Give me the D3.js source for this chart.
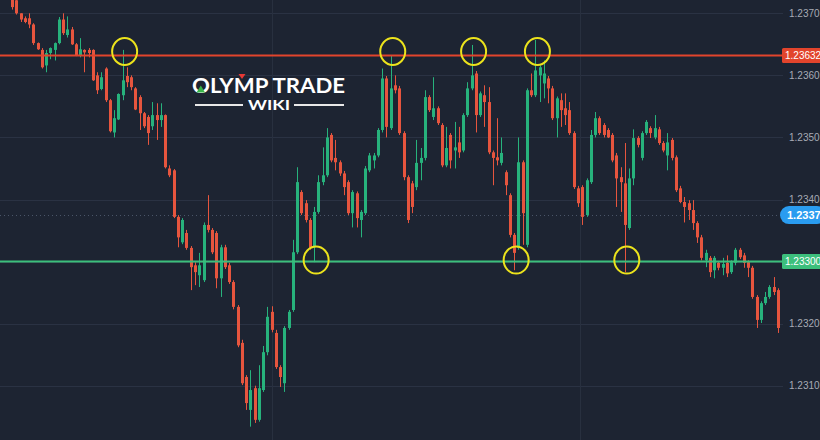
<!DOCTYPE html>
<html><head><meta charset="utf-8">
<script src="https://cdn.jsdelivr.net/npm/d3@7"></script>
<style>html,body{margin:0;padding:0;background:#1d2432;} svg{display:block;}</style>
</head><body><svg id="c" width="820" height="440"></svg>
<script>
const openP = [
1.23724,1.23721,1.23700,1.23692,1.23692,1.23682,1.23652,1.23641,1.23616,1.23636,
1.23641,1.23652,1.23690,1.23665,1.23674,1.23650,1.23632,1.23641,1.23641,1.23641,
1.23600,1.23578,1.23611,1.23560,1.23508,1.23529,1.23568,1.23599,1.23597,1.23579,
1.23565,1.23539,1.23533,1.23518,1.23536,1.23528,1.23536,1.23450,1.23447,1.23372,
1.23331,1.23346,1.23322,1.23294,1.23278,1.23270,1.23359,1.23351,1.23346,1.23273,
1.23323,1.23294,1.23267,1.23227,1.23169,1.23114,1.23061,1.23096,1.23045,1.23093,
1.23154,1.23219,1.23185,1.23130,1.23104,1.23193,1.23222,1.23315,1.23412,1.23394,
1.23367,1.23323,1.23380,1.23428,1.23439,1.23504,1.23467,1.23460,1.23442,1.23428,
1.23378,1.23410,1.23367,1.23378,1.23447,1.23463,1.23471,1.23512,1.23595,1.23515,
1.23584,1.23579,1.23507,1.23436,1.23426,1.23420,1.23459,1.23467,1.23565,1.23533,
1.23547,1.23520,1.23455,1.23504,1.23479,1.23492,1.23479,1.23536,1.23579,1.23603,
1.23536,1.23568,1.23557,1.23476,1.23468,1.23459,1.23444,1.23407,1.23343,1.23322,
1.23460,1.23327,1.23576,1.23568,1.23600,1.23587,1.23595,1.23579,1.23531,1.23560,
1.23547,1.23544,1.23507,1.23418,1.23420,1.23375,1.23428,1.23504,1.23531,1.23520,
1.23512,1.23504,1.23471,1.23436,1.23426,1.23354,1.23434,1.23499,1.23467,1.23507,
1.23515,1.23500,1.23513,1.23491,1.23471,1.23496,1.23468,1.23418,1.23396,1.23394,
1.23383,1.23362,1.23339,1.23302,1.23306,1.23286,1.23298,1.23290,1.23298,1.23283,
1.23298,1.23319,1.23310,1.23299,1.23290,1.23243,1.23206,1.23233,1.23243,1.23259,
1.23254];
const closeP = [
1.23710,1.23700,1.23690,1.23686,1.23682,1.23652,1.23642,1.23613,1.23636,1.23644,
1.23652,1.23690,1.23668,1.23674,1.23650,1.23632,1.23642,1.23637,1.23636,1.23592,
1.23576,1.23597,1.23560,1.23510,1.23531,1.23570,1.23592,1.23589,1.23581,1.23545,
1.23539,1.23518,1.23507,1.23536,1.23528,1.23536,1.23452,1.23439,1.23372,1.23339,
1.23367,1.23322,1.23291,1.23283,1.23294,1.23359,1.23351,1.23315,1.23273,1.23323,
1.23291,1.23267,1.23227,1.23165,1.23104,1.23072,1.23093,1.23045,1.23096,1.23154,
1.23211,1.23190,1.23130,1.23114,1.23193,1.23219,1.23315,1.23428,1.23378,1.23367,
1.23322,1.23380,1.23428,1.23439,1.23500,1.23463,1.23460,1.23442,1.23420,1.23378,
1.23412,1.23370,1.23380,1.23450,1.23471,1.23471,1.23512,1.23595,1.23517,1.23579,
1.23576,1.23507,1.23436,1.23367,1.23388,1.23459,1.23467,1.23565,1.23544,1.23547,
1.23523,1.23455,1.23483,1.23463,1.23484,1.23476,1.23536,1.23579,1.23600,1.23536,
1.23571,1.23557,1.23476,1.23467,1.23463,1.23475,1.23423,1.23343,1.23314,1.23460,
1.23378,1.23576,1.23568,1.23608,1.23613,1.23603,1.23579,1.23531,1.23563,1.23544,
1.23536,1.23507,1.23420,1.23394,1.23372,1.23431,1.23504,1.23531,1.23507,1.23504,
1.23500,1.23463,1.23434,1.23428,1.23359,1.23434,1.23499,1.23488,1.23507,1.23525,
1.23507,1.23515,1.23491,1.23479,1.23492,1.23467,1.23415,1.23396,1.23388,1.23383,
1.23362,1.23339,1.23306,1.23314,1.23283,1.23306,1.23290,1.23296,1.23281,1.23299,
1.23319,1.23307,1.23298,1.23290,1.23243,1.23206,1.23233,1.23243,1.23259,1.23251,
1.23193];
const highP = [
1.23729,1.23726,1.23700,1.23695,1.23700,1.23684,1.23653,1.23644,1.23641,1.23645,
1.23653,1.23694,1.23700,1.23695,1.23678,1.23652,1.23660,1.23642,1.23644,1.23642,
1.23605,1.23605,1.23613,1.23562,1.23544,1.23571,1.23641,1.23613,1.23600,1.23581,
1.23568,1.23541,1.23536,1.23557,1.23555,1.23555,1.23537,1.23455,1.23449,1.23375,
1.23370,1.23351,1.23325,1.23299,1.23314,1.23363,1.23407,1.23354,1.23349,1.23327,
1.23327,1.23298,1.23270,1.23230,1.23174,1.23117,1.23125,1.23100,1.23133,1.23164,
1.23227,1.23228,1.23190,1.23133,1.23196,1.23222,1.23335,1.23452,1.23415,1.23399,
1.23370,1.23388,1.23439,1.23484,1.23515,1.23507,1.23496,1.23463,1.23446,1.23431,
1.23415,1.23413,1.23383,1.23454,1.23475,1.23475,1.23515,1.23611,1.23599,1.23632,
1.23600,1.23583,1.23510,1.23439,1.23430,1.23496,1.23483,1.23576,1.23568,1.23597,
1.23550,1.23523,1.23517,1.23507,1.23525,1.23517,1.23539,1.23589,1.23649,1.23607,
1.23574,1.23584,1.23581,1.23479,1.23531,1.23500,1.23447,1.23410,1.23346,1.23500,
1.23463,1.23579,1.23603,1.23657,1.23616,1.23624,1.23599,1.23583,1.23566,1.23571,
1.23571,1.23557,1.23510,1.23422,1.23423,1.23434,1.23512,1.23541,1.23534,1.23523,
1.23515,1.23507,1.23475,1.23452,1.23491,1.23450,1.23513,1.23502,1.23510,1.23528,
1.23518,1.23536,1.23517,1.23494,1.23507,1.23499,1.23471,1.23422,1.23404,1.23399,
1.23399,1.23365,1.23343,1.23319,1.23309,1.23309,1.23301,1.23306,1.23310,1.23302,
1.23322,1.23322,1.23314,1.23302,1.23293,1.23246,1.23236,1.23251,1.23262,1.23275,
1.23257];
const lowP = [
1.23706,1.23698,1.23686,1.23684,1.23676,1.23649,1.23641,1.23611,1.23605,1.23626,
1.23624,1.23650,1.23665,1.23661,1.23649,1.23631,1.23629,1.23605,1.23629,1.23591,
1.23570,1.23576,1.23557,1.23508,1.23500,1.23528,1.23560,1.23581,1.23576,1.23544,
1.23512,1.23515,1.23488,1.23512,1.23496,1.23517,1.23450,1.23436,1.23370,1.23323,
1.23328,1.23319,1.23254,1.23262,1.23259,1.23267,1.23347,1.23312,1.23257,1.23243,
1.23288,1.23264,1.23223,1.23162,1.23101,1.23061,1.23034,1.23040,1.23042,1.23090,
1.23149,1.23186,1.23127,1.23098,1.23090,1.23190,1.23219,1.23312,1.23375,1.23363,
1.23319,1.23299,1.23377,1.23423,1.23436,1.23460,1.23447,1.23438,1.23407,1.23375,
1.23355,1.23355,1.23339,1.23375,1.23444,1.23450,1.23468,1.23508,1.23500,1.23512,
1.23571,1.23504,1.23431,1.23362,1.23378,1.23415,1.23431,1.23463,1.23541,1.23528,
1.23520,1.23452,1.23452,1.23450,1.23450,1.23467,1.23476,1.23533,1.23576,1.23508,
1.23533,1.23517,1.23473,1.23423,1.23455,1.23455,1.23407,1.23339,1.23286,1.23319,
1.23327,1.23323,1.23565,1.23565,1.23557,1.23563,1.23555,1.23528,1.23500,1.23517,
1.23520,1.23504,1.23417,1.23388,1.23359,1.23372,1.23425,1.23500,1.23504,1.23500,
1.23499,1.23460,1.23388,1.23380,1.23283,1.23351,1.23423,1.23484,1.23463,1.23504,
1.23499,1.23497,1.23488,1.23476,1.23447,1.23463,1.23412,1.23394,1.23363,1.23367,
1.23351,1.23330,1.23302,1.23291,1.23275,1.23273,1.23286,1.23278,1.23275,1.23280,
1.23294,1.23304,1.23290,1.23275,1.23240,1.23193,1.23201,1.23230,1.23240,1.23246,
1.23185];
const gridTicks = [1.2310, 1.2320, 1.2330, 1.2340, 1.2350, 1.2360, 1.2370];
const labelTicks = [1.2310, 1.2320, 1.2340, 1.2350, 1.2360, 1.2370];
const resistance = 1.23632;
const support = 1.23300;
const lastPrice = 1.23375;
const lastPriceLabel = "1.2337";
const resistanceTouches = [26, 89, 108, 123];
const supportTouches = [71, 118, 144];
const timeGrid = [61.1, 133.5];

const W = 820, H = 440, plotR = 783;
const BG = "#1d2432", UP = "#27b27c", DOWN = "#e6553e";
const svg = d3.select("#c");
svg.append("rect").attr("width", W).attr("height", H).attr("fill", BG);

const n = openP.length;
const x = d3.scaleLinear().domain([0, n - 1]).range([12, 778]);
const y = d3.scaleLinear().domain([1.2310, 1.2370]).range([385.7, 13.3]);

// grid
const grid = svg.append("g");
grid.selectAll("line.h").data(gridTicks).join("line").attr("class", "h")
  .attr("x1", 0).attr("x2", plotR)
  .attr("y1", d => Math.round(y(d)) + 0.5).attr("y2", d => Math.round(y(d)) + 0.5)
  .attr("stroke", "#2a3243").attr("stroke-width", 1);
grid.selectAll("line.v").data(timeGrid).join("line").attr("class", "v")
  .attr("y1", 0).attr("y2", H)
  .attr("x1", d => Math.round(x(d)) + 0.5).attr("x2", d => Math.round(x(d)) + 0.5)
  .attr("stroke", "#28303f").attr("stroke-width", 1);

// current price dotted line
svg.append("line").attr("x1", 0).attr("x2", plotR)
  .attr("y1", Math.round(y(lastPrice)) + 0.5).attr("y2", Math.round(y(lastPrice)) + 0.5)
  .attr("stroke", "#4a5568").attr("stroke-dasharray", "1,3");

// axis labels
const axis = d3.axisRight(y).tickValues(labelTicks).tickFormat(d3.format(".4f")).tickSize(0).tickPadding(6);
const ag = svg.append("g").attr("transform", `translate(${plotR},0)`).call(axis);
ag.select(".domain").remove();
ag.selectAll("text").attr("fill", "#a7abb5")
  .style("font-family", '"Liberation Sans", Arial, sans-serif').style("font-size", "10px");

// candles
svg.append("clipPath").attr("id", "plot").append("rect").attr("x", 0).attr("y", 0).attr("width", plotR).attr("height", H);
const data = d3.range(n).map(i => ({i, o: openP[i], h: highP[i], l: lowP[i], c: closeP[i]}));
const cg = svg.append("g").attr("clip-path", "url(#plot)");
const cs = cg.selectAll("g").data(data).join("g");
cs.append("line")
  .attr("x1", d => Math.round(x(d.i)) + 0.5).attr("x2", d => Math.round(x(d.i)) + 0.5)
  .attr("y1", d => y(d.h)).attr("y2", d => y(d.l))
  .attr("stroke", d => d.c >= d.o ? UP : DOWN).attr("stroke-width", 1);
cs.append("rect")
  .attr("x", d => Math.round(x(d.i)) - 1).attr("width", 3)
  .attr("y", d => y(Math.max(d.o, d.c)))
  .attr("height", d => Math.max(1, Math.abs(y(d.o) - y(d.c))))
  .attr("fill", d => d.c >= d.o ? UP : DOWN);

// resistance / support lines
const levels = [
  {v: resistance, color: "#e2442c", label: "1.23632"},
  {v: support, color: "#3cbf7c", label: "1.23300"}
];
const lg = svg.append("g");
lg.selectAll("line").data(levels).join("line")
  .attr("x1", 0).attr("x2", plotR).attr("y1", d => y(d.v)).attr("y2", d => y(d.v))
  .attr("stroke", d => d.color).attr("stroke-width", 2);
lg.selectAll("rect").data(levels).join("rect")
  .attr("x", 782).attr("y", d => y(d.v) - 7.5).attr("width", 40).attr("height", 15)
  .attr("rx", 1.5).attr("fill", d => d.color);
lg.selectAll("text").data(levels).join("text")
  .attr("x", 785).attr("y", d => y(d.v) + 3.6).attr("fill", "#ffffff")
  .style("font-family", '"Liberation Sans", Arial, sans-serif').style("font-size", "10px")
  .text(d => d.label);

// current price pill
svg.append("rect").attr("x", 780).attr("y", y(lastPrice) - 9).attr("width", 46).attr("height", 18)
  .attr("rx", 9).attr("fill", "#2a9cf0");
svg.append("text").attr("x", 787).attr("y", y(lastPrice) + 4).attr("fill", "#ffffff")
  .style("font-family", '"Liberation Sans", Arial, sans-serif').style("font-size", "11px").style("font-weight", "bold")
  .text(lastPriceLabel);

// touch circles
const circ = svg.append("g");
circ.selectAll("ellipse.t").data(resistanceTouches).join("ellipse").attr("class", "t")
  .attr("cx", d => x(d) + 2).attr("cy", y(resistance) - 4).attr("rx", 12.5).attr("ry", 13.5)
  .attr("fill", "none").attr("stroke", "#ece31c").attr("stroke-width", 2);
circ.selectAll("ellipse.b").data(supportTouches).join("ellipse").attr("class", "b")
  .attr("cx", d => x(d) + 2).attr("cy", y(support) - 1.5).attr("rx", 12.5).attr("ry", 13.5)
  .attr("fill", "none").attr("stroke", "#ece31c").attr("stroke-width", 2);

// logo
const logo = svg.append("g");
logo.append("text").attr("x", 192).attr("y", 92.5).attr("textLength", 153).attr("lengthAdjust", "spacingAndGlyphs")
  .attr("fill", "#ffffff")
  .style("font-family", 'Lato, "Open Sans", sans-serif').style("font-weight", 700).style("font-size", "21px")
  .text("OLYMP TRADE");
logo.append("path").attr("d", "M196.5,92.5 L200.8,85.5 L205,92.5 Z").attr("fill", "#3ab54a");
logo.append("path").attr("d", "M238.5,74 L245.5,74 L242,79 Z").attr("fill", "#e53935");
logo.append("text").attr("x", 248).attr("y", 110).attr("textLength", 42).attr("lengthAdjust", "spacingAndGlyphs")
  .attr("fill", "#ffffff")
  .style("font-family", 'Lato, "Open Sans", sans-serif').style("font-weight", 700).style("font-size", "13px")
  .text("WIKI");
logo.append("line").attr("x1", 195).attr("x2", 243).attr("y1", 105).attr("y2", 105).attr("stroke", "#e8e8e8").attr("stroke-width", 2);
logo.append("line").attr("x1", 294).attr("x2", 344).attr("y1", 105).attr("y2", 105).attr("stroke", "#e8e8e8").attr("stroke-width", 2);
</script>
</body></html>
